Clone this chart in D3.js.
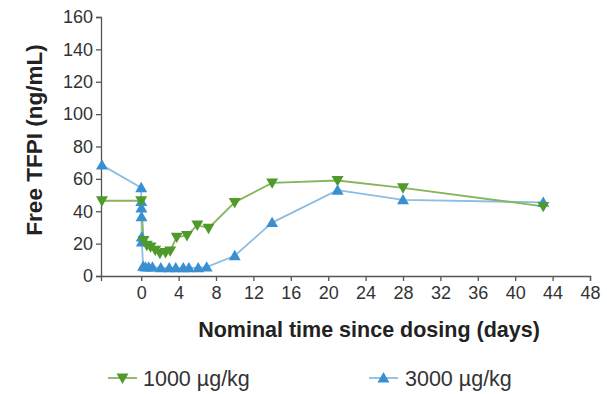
<!DOCTYPE html>
<html>
<head>
<meta charset="utf-8">
<script src="https://cdn.jsdelivr.net/npm/d3@7"></script>
<style>
  body { margin: 0; background: #fff; }
  svg { display: block; font-family: "Liberation Sans", Arial, sans-serif; }
</style>
</head>
<body>
<svg id="chart" width="607" height="394"></svg>
<script>
// ---- data ----
const xTicks = [0, 4, 8, 12, 16, 20, 24, 28, 32, 36, 40, 44, 48];
const yTicks = [0, 20, 40, 60, 80, 100, 120, 140, 160];

const lowDoseName = "1000 µg/kg";
const lowDoseTime  = [-4.2, 0, 0.25, 0.6, 1, 1.5, 2, 2.6, 3.1, 3.8, 4.9, 6, 7.2, 10, 14, 21, 28, 43];
const lowDoseValue = [46.5, 46.5, 22, 19, 18, 16, 14, 14.5, 15.5, 24, 25, 31.5, 29.5, 45.5, 57.5, 59, 54.5, 43];

const highDoseName = "3000 µg/kg";
const highDoseTime  = [-4.2, 0, 0.01, 0.02, 0.03, 0.05, 0.07, 0.2, 0.45, 0.8, 1.2, 2.1, 3, 3.7, 4.5, 5.1, 6.1, 7, 10, 14, 21, 28, 43];
const highDoseValue = [68.5, 54.5, 46, 42, 36.5, 24, 21, 6, 5.5, 5.5, 5.5, 5, 5, 5, 5, 5, 5, 5.5, 12.5, 33, 53, 47, 45.5];

const xTitle = "Nominal time since dosing (days)";
const yTitle = "Free TFPI (ng/mL)";

// ---- layout ----
const svg = d3.select("#chart");
const x = d3.scaleLinear().domain([-4.3, 48]).range([101, 590]);
const y = d3.scaleLinear().domain([0, 160]).range([276, 17]);

const axisColor = "#555";
const textColor = "#333";

const xAxis = svg.append("g")
  .attr("transform", `translate(0,${y(0)})`)
  .call(d3.axisBottom(x).tickValues(xTicks).tickSizeOuter(0).tickSize(5).tickPadding(5));
const yAxis = svg.append("g")
  .attr("transform", `translate(${x.range()[0]},0)`)
  .call(d3.axisLeft(y).tickValues(yTicks).tickSizeOuter(0).tickSize(5).tickPadding(3));

[xAxis, yAxis].forEach(g => {
  g.select(".domain").attr("stroke", axisColor).attr("stroke-width", 1.3);
  g.selectAll(".tick line").attr("stroke", axisColor).attr("stroke-width", 1.3);
  g.selectAll(".tick text").attr("fill", textColor)
    .style("font-family", "'Liberation Sans', Arial, sans-serif")
    .style("font-size", "18px");
});

// axis titles
svg.append("text")
  .attr("x", 369).attr("y", 337)
  .attr("text-anchor", "middle")
  .attr("font-weight", "bold").attr("font-size", 21.5).attr("fill", "#222")
  .text(xTitle);
svg.append("text")
  .attr("transform", "translate(42,140) rotate(-90)")
  .attr("text-anchor", "middle")
  .attr("font-weight", "bold").attr("font-size", 22.5).attr("fill", "#222")
  .text(yTitle);

// series
const series = [
  { name: lowDoseName, t: lowDoseTime, v: lowDoseValue, line: "#86b55c", mark: "#4f9a2a", rot: 180 },
  { name: highDoseName, t: highDoseTime, v: highDoseValue, line: "#8cbde3", mark: "#3a8fd2", rot: 0 }
];

const line = d3.line().x(d => x(d[0])).y(d => y(d[1]));
const tri = d3.symbol().type(d3.symbolTriangle).size(62);

series.slice().reverse().forEach(s => {
  const pts = s.t.map((t, i) => [t, s.v[i]]);
  svg.append("path").datum(pts)
    .attr("d", line).attr("fill", "none")
    .attr("stroke", s.line).attr("stroke-width", 1.8);
});
series.slice().reverse().forEach(s => {
  const pts = s.t.map((t, i) => [t, s.v[i]]);
  svg.append("g").selectAll("path").data(pts).join("path")
    .attr("d", tri)
    .attr("transform", d => `translate(${x(d[0])},${y(d[1]) + (s.rot ? -1 : 1)}) rotate(${s.rot})`)
    .attr("fill", s.mark);
});

// legend
const legendPos = [{ lx: 108, tx: 143 }, { lx: 369, tx: 405 }];
series.forEach((s, i) => {
  const p = legendPos[i];
  const g = svg.append("g");
  g.append("line").attr("x1", p.lx).attr("x2", p.lx + 29).attr("y1", 378).attr("y2", 378)
    .attr("stroke", s.line).attr("stroke-width", 1.8);
  g.append("path").attr("d", tri)
    .attr("transform", `translate(${p.lx + 14.5},${378 + (s.rot ? -1 : 1)}) rotate(${s.rot})`)
    .attr("fill", s.mark);
  g.append("text").attr("x", p.tx).attr("y", 386)
    .attr("font-size", 21.5).attr("fill", textColor).text(s.name);
});
</script>
</body>
</html>
